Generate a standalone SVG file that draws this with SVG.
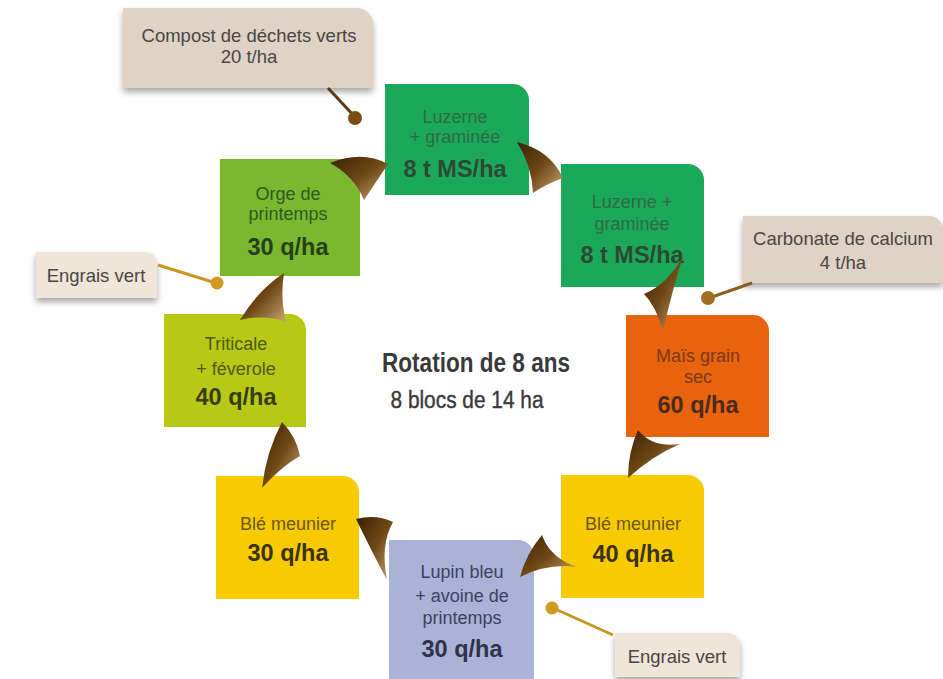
<svg xmlns="http://www.w3.org/2000/svg" width="943" height="679" viewBox="0 0 943 679">
<style>
.t{font-family:"Liberation Sans",Arial,sans-serif;text-anchor:middle;font-size:18px}
.b{font-family:"Liberation Sans",Arial,sans-serif;text-anchor:middle;font-size:23.5px;font-weight:bold}
.c{font-family:"Liberation Sans Narrow","Liberation Sans",sans-serif;text-anchor:middle;fill:#3a3a3a}
.call{fill:#ded3c4;filter:url(#sh)}
.call2{fill:#efe5d8;filter:url(#sh)}
.ct{font-family:"Liberation Sans",Arial,sans-serif;text-anchor:middle;font-size:18.5px;fill:#4a4644}
.arr{fill:url(#horn)}
</style>
<defs>
<filter id="sh" x="-10%" y="-20%" width="120%" height="160%">
<feDropShadow dx="0" dy="4" stdDeviation="3" flood-color="#000" flood-opacity="0.35"/>
</filter>
<linearGradient id="horn" x1="0" y1="0" x2="1" y2="1">
<stop offset="0" stop-color="#3a2005"/>
<stop offset="0.5" stop-color="#6e4814"/>
<stop offset="1" stop-color="#c9a676"/>
</linearGradient>
</defs>
<rect width="943" height="679" fill="#ffffff"/>

<g id="callout-compost">
<path class="call" d="M123,8 H357 A16,16 0 0 1 373,24 V88 H123 Z"/>
<text class="ct" x="249" y="42" font-size="19">Compost de déchets verts</text>
<text class="ct" x="249" y="63" font-size="19">20 t/ha</text>
</g>
<g id="callout-carbonate">
<path class="call" d="M743,216 H929 A14,14 0 0 1 943,230 V283 H743 Z"/>
<text class="ct" x="843" y="245">Carbonate de calcium</text>
<text class="ct" x="843" y="269">4 t/ha</text>
</g>
<g id="callout-engrais1">
<path class="call2" d="M36,252 H145 A12,12 0 0 1 157,264 V298 H36 Z"/>
<text class="ct" x="96" y="282">Engrais vert</text>
</g>
<g id="callout-engrais2">
<path class="call2" d="M615,633 H728 A12,12 0 0 1 740,645 V677 H615 Z"/>
<text class="ct" x="677" y="663">Engrais vert</text>
</g>

<g id="n1">
<path fill="#1ba85b" d="M385,84 H513 A16,16 0 0 1 529,100 V195 H385 Z"/>
<text class="t" x="455" y="123" fill="#2f6b42">Luzerne</text>
<text class="t" x="455" y="143" fill="#2f6b42">+ graminée</text>
<text class="b" x="455" y="177" fill="#2c4a32">8 t MS/ha</text>
</g>
<g id="n2">
<path fill="#1ba85b" d="M561,164 H688 A16,16 0 0 1 704,180 V287 H561 Z"/>
<text class="t" x="632" y="208" fill="#2f6b42">Luzerne +</text>
<text class="t" x="632" y="230" fill="#2f6b42">graminée</text>
<text class="b" x="632" y="263" fill="#2c4a32">8 t MS/ha</text>
</g>
<g id="n3">
<path fill="#e9620d" d="M626,315 H753 A16,16 0 0 1 769,331 V437 H626 Z"/>
<text class="t" x="698" y="362" fill="#7a3a18">Maïs grain</text>
<text class="t" x="698" y="383" fill="#7a3a18">sec</text>
<text class="b" x="698" y="413" fill="#4a2c1c">60 q/ha</text>
</g>
<g id="n4">
<path fill="#f7cb00" d="M561,475 H688 A16,16 0 0 1 704,491 V598 H561 Z"/>
<text class="t" x="633" y="530" fill="#6a5614">Blé meunier</text>
<text class="b" x="633" y="562" fill="#3a3212">40 q/ha</text>
</g>
<g id="n5">
<path fill="#aab2d7" d="M389,540 H518 A16,16 0 0 1 534,556 V679 H389 Z"/>
<text class="t" x="462" y="578" fill="#3c4260">Lupin bleu</text>
<text class="t" x="462" y="602" fill="#3c4260">+ avoine de</text>
<text class="t" x="462" y="624" fill="#3c4260">printemps</text>
<text class="b" x="462" y="657" fill="#2e3248">30 q/ha</text>
</g>
<g id="n6">
<path fill="#f7cb00" d="M216,476 H343 A16,16 0 0 1 359,492 V599 H216 Z"/>
<text class="t" x="288" y="530" fill="#6a5614">Blé meunier</text>
<text class="b" x="288" y="561" fill="#3a3212">30 q/ha</text>
</g>
<g id="n7">
<path fill="#b7c916" d="M164,314 H290 A16,16 0 0 1 306,330 V427 H164 Z"/>
<text class="t" x="236" y="350" fill="#4d5a12">Triticale</text>
<text class="t" x="236" y="375" fill="#4d5a12">+ féverole</text>
<text class="b" x="236" y="405" fill="#363e10">40 q/ha</text>
</g>
<g id="n8">
<path fill="#79b82f" d="M220,159 H344 A16,16 0 0 1 360,175 V276 H220 Z"/>
<text class="t" x="288" y="200" fill="#2f5a20">Orge de</text>
<text class="t" x="288" y="220" fill="#2f5a20">printemps</text>
<text class="b" x="288" y="255" fill="#26401a">30 q/ha</text>
</g>

<g id="center">
<text class="c" x="476" y="372" font-size="27" font-weight="bold" textLength="188" lengthAdjust="spacingAndGlyphs">Rotation de 8 ans</text>
<text class="c" x="467" y="408" font-size="23.5" stroke="#3a3a3a" stroke-width="0.4" textLength="153" lengthAdjust="spacingAndGlyphs">8 blocs de 14 ha</text>
</g>

<g id="connectors">
<line x1="328" y1="88" x2="355" y2="117" stroke="#5a3a12" stroke-width="3"/>
<circle cx="355" cy="118" r="7" fill="#7a4e10"/>
<line x1="752" y1="283" x2="709" y2="298" stroke="#8a6020" stroke-width="3"/>
<circle cx="708" cy="298" r="7" fill="#a07020"/>
<line x1="158" y1="265" x2="216" y2="283" stroke="#c8961e" stroke-width="3"/>
<circle cx="217" cy="283" r="6.5" fill="#d09a20"/>
<line x1="613" y1="635" x2="553" y2="608" stroke="#c8961e" stroke-width="3"/>
<circle cx="552" cy="608" r="6.5" fill="#d09a20"/>

<path class="arr" d="M330,163 Q362,150 388,164 Q376,182 364,200 Q354,176 330,163 Z"/>
<path class="arr" d="M517,142 Q550,150 563,178 Q546,184 533,193 Q532,166 517,142 Z"/>
<path class="arr" d="M683,256 Q672,292 663,330 Q655,305 644,294 Q668,284 683,256 Z"/>
<path class="arr" d="M638,430 Q628,452 628,478 Q652,456 680,444 Q652,448 638,430 Z"/>
<path class="arr" d="M542,535 Q526,554 520,577 Q548,563 577,567 Q550,558 542,535 Z"/>
<path class="arr" d="M356,519 Q376,514 393,522 Q380,545 387,580 Q370,548 356,519 Z"/>
<path class="arr" d="M282,422 Q296,436 300,456 Q282,466 262,488 Q266,452 282,422 Z"/>
<path class="arr" d="M284,273 Q280,298 286,322 Q266,314 240,320 Q258,290 284,273 Z"/>
</g>
</svg>
